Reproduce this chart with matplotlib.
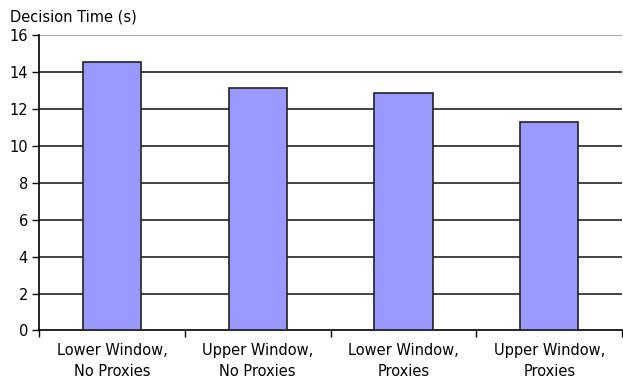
import matplotlib.pyplot as plt
import numpy as np

categories = ["Lower Window,\nNo Proxies", "Upper Window,\nNo Proxies",
              "Lower Window,\nProxies", "Upper Window,\nProxies"]
decision_time = [14.53, 13.11, 12.84, 11.3]
y_ticks = [0, 2, 4, 6, 8, 10, 12, 14, 16]

plt.rcParams["font.family"] = ["DejaVu Sans"]

fig = plt.figure(figsize=(6.23, 3.85), dpi=100)
ax = fig.add_axes([0.0626, 0.1416, 0.936, 0.7675])

x = np.arange(len(categories))
ax.bar(x, decision_time, width=0.4, color="#9999FF", edgecolor="#222222",
       linewidth=1.2, zorder=3)

ax.set_xlim(-0.5, len(categories) - 0.5)
ax.set_ylim(0, 16)
ax.set_yticks(y_ticks)
ax.tick_params(axis="y", labelsize=10.5, length=5, width=1, direction="out", pad=3)

# black gridlines, the top one grey
for v in y_ticks[1:-1]:
    ax.axhline(v, color="#222222", linewidth=1.2, zorder=1)
ax.axhline(16, color="#999999", linewidth=1.2, zorder=1)

# category labels, ticks between categories
ax.set_xticks(x)
ax.set_xticklabels(categories, fontsize=10.5, linespacing=1.5)
ax.tick_params(axis="x", length=0, pad=9)
ax.set_xticks(np.arange(len(categories) + 1) - 0.5, minor=True)
ax.tick_params(axis="x", which="minor", length=5, width=1, direction="out")

for side in ["top", "right"]:
    ax.spines[side].set_visible(False)
ax.spines["left"].set_linewidth(1.2)
ax.spines["bottom"].set_linewidth(1.2)

fig.text(0.016, 0.955, "Decision Time (s)", fontsize=10.5, va="center", ha="left")

fig.savefig("out.png", dpi=100)
